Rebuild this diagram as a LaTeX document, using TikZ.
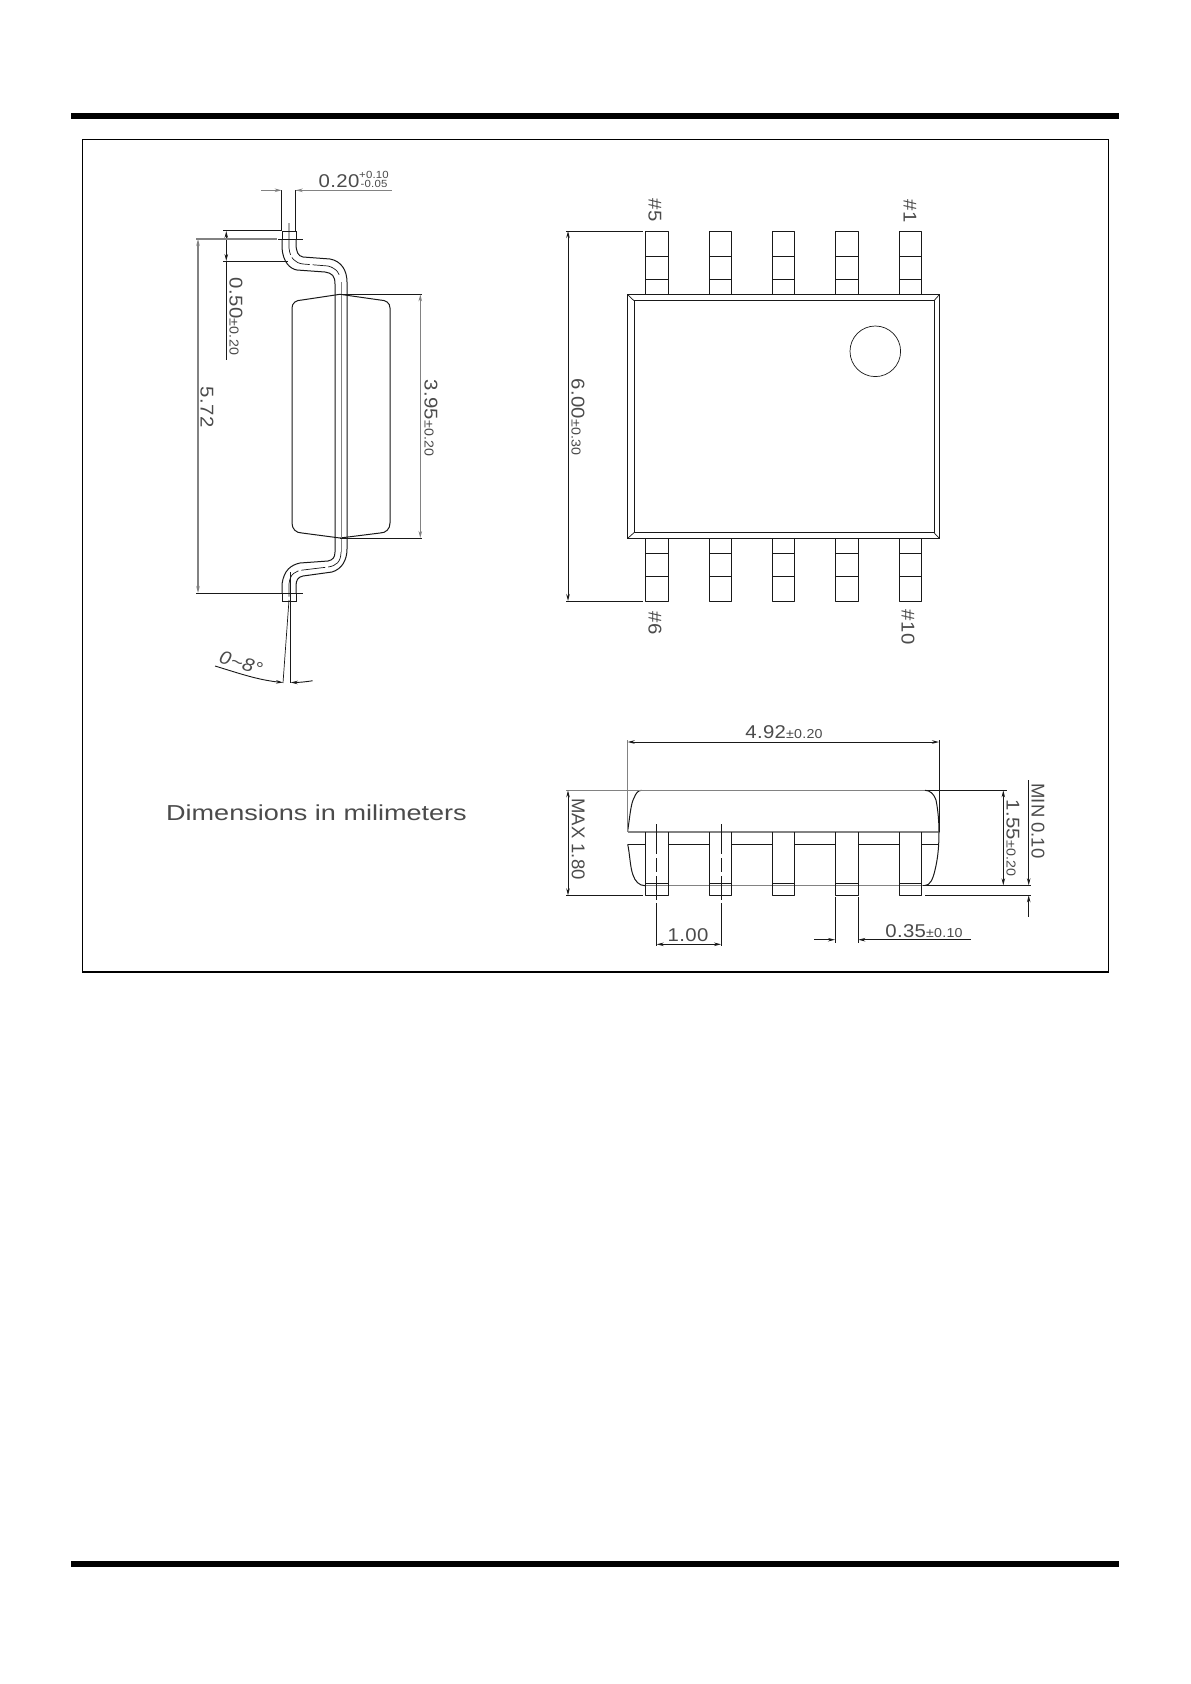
\documentclass[tikz,border=0pt]{standalone}
\usepackage{fontspec}
\setmainfont[FakeStretch=1.1,LetterSpace=2]{Liberation Sans}
\newfontfamily\plainfont{Liberation Sans}
\newfontfamily\notefont[FakeStretch=1.25]{Liberation Sans}
\usetikzlibrary{arrows.meta}
\definecolor{drawColor}{RGB}{25,25,25}
\definecolor{greyColor}{RGB}{130,130,130}
\definecolor{textColor}{RGB}{75,75,75}
\newcommand{\tol}[1]{{\scriptsize #1}}
\tikzset{
  outline/.style={draw=drawColor,line width=1pt,line join=round},
  greyline/.style={draw=greyColor,line width=1.1pt,line join=round},
  thinline/.style={draw=drawColor,line width=0.7pt},
  dimline/.style={draw=drawColor,line width=0.9pt},
  centerline/.style={draw=drawColor,line width=0.8pt,dash pattern=on 30pt off 4pt on 14pt off 4pt on 24pt off 3pt on 60pt},
  dimtext/.style={text=textColor,anchor=center,inner sep=0pt,outer sep=0pt,scale=1.85},
  dimdown/.style={dimtext,rotate=-90},
}
\begin{document}
\begin{tikzpicture}[x=1pt,y=-1pt,>={Stealth[length=7pt,width=3.5pt]}]
\path[use as bounding box,fill=white] (0,0) rectangle (1191,1684);

% page rules and frame
\path[fill=black] (71,113) rectangle (1119,119);
\path[fill=black] (71,1561) rectangle (1119,1567);
\path[draw=black,line width=1.1pt] (82.5,139.5) rectangle (1108.5,972);

% side view
\begin{scope}
\path[outline] (292,308) .. controls (292,303) and (296,300) .. (302,300) -- (340,294.3) -- (380,300) .. controls (386,300) and (390,303) .. (390,308) -- (390,523) .. controls (390,529) and (386,533) .. (380,533) -- (340,538) -- (302,533) .. controls (296,533) and (292,529) .. (292,523) -- cycle;
\path[thinline] (282,231) rectangle (296,239);
\path[thinline] (282,593) rectangle (296,601.6);
\path[outline] (296,239) -- (296,243) .. controls (296,252) and (298,256) .. (303,257) -- (330,259) .. controls (341,261) and (347,270) .. (347,282) -- (347,549) .. controls (347,560) and (342,569) .. (332,572) -- (303,576) .. controls (298,577) and (296,580) .. (296,586) -- (296,593);
\path[outline] (282,239) -- (282,248) .. controls (283,262) and (290,269) .. (297,270) -- (325,272) .. controls (332,273) and (335,276) .. (335,284) -- (335,552) .. controls (335,557) and (333,560) .. (328,561) -- (300,563) .. controls (291,565) and (284,570) .. (282,584) -- (282,593);
\path[draw=greyColor,line width=0.8pt] (341,282) -- (341,552);
\path[draw=drawColor,line width=0.7pt,dash pattern=on 32pt off 3pt on 20pt off 3pt on 30pt] (289,223) -- (289,248) .. controls (290,258) and (295,263) .. (303,264) -- (328,266) .. controls (336,268) and (341,274) .. (341,282);
\path[draw=drawColor,line width=0.7pt,dash pattern=on 22pt off 3pt on 24pt off 3pt on 30pt] (341,552) .. controls (341,562) and (336,566) .. (328,567) -- (303,570) .. controls (295,571) and (290,574) .. (289,584) -- (289,600);

% dimensions of the side view
\path[greyline] (295.7,190.3) -- (392,190.3);
\path[dimline] (295.7,190.3) -- (295.7,231);
\path[dimline] (281.7,190.3) -- (281.7,231);
\path[greyline,->] (261,190.3) -- (281.7,190.3);
\path[greyline,->] (310,190.3) -- (295.7,190.3);
\node[dimtext] (leadwidth) at (339,181) {0.20};
\node[dimtext,scale=0.56] (leadplus) at (374,174.5) {+0.10};
\node[dimtext,scale=0.56] (leadminus) at (374,183.5) {-0.05};

\path[dimline] (223,230.7) -- (282,230.7);
\path[dimline] (223,261) -- (288,261);
\path[dimline,<->] (226.3,231) -- (226.3,261);
\path[dimline] (226.3,261) -- (226.3,360);
\node[dimdown] (footlength) at (236,316.5) {0.50\tol{±0.20}};

\path[greyline] (196,239) -- (277,239);
\path[dimline] (278,239) -- (303,239);
\path[dimline] (196,593) -- (303,593);
\path[greyline,<->] (198,239) -- (198,593);
\node[dimdown] (leadspan) at (207,407) {5.72};

\path[dimline] (340,294.3) -- (422,294.3);
\path[dimline] (340,538) -- (422,538);
\path[greyline,<->] (420.3,294.3) -- (420.3,538);
\node[dimdown] (bodywidth) at (431,418) {3.95\tol{±0.20}};

\path[outline] (290.7,572) -- (290.7,683);
\path[thinline] (289,600) -- (283,683);
\path[dimline,->] (215,666) .. controls (238,673) and (258,680) .. (283,682.5);
\path[dimline,->] (312.7,680.7) .. controls (305,682) and (298,682.5) .. (290.7,682.5);
\node[dimtext,rotate=-17,font=\itshape] (leadangle) at (241,663) {0\textasciitilde 8°};
\end{scope}

% top view
\begin{scope}
\foreach \xa/\xb in {645/668.3,709.3/731.7,772.3/794.3,835/858.3,899.3/921.3}{
  \path[outline] (\xa,294.7) -- (\xa,231) -- (\xb,231) -- (\xb,294.7);
  \path[thinline] (\xa,256.7) -- (\xb,256.7);
  \path[thinline] (\xa,279) -- (\xb,279);
  \path[outline] (\xa,538.3) -- (\xa,601) -- (\xb,601) -- (\xb,538.3);
  \path[thinline] (\xa,553.3) -- (\xb,553.3);
  \path[thinline] (\xa,576) -- (\xb,576);
}
\path[draw=drawColor,line width=1.2pt] (627.7,294.7) rectangle (939.3,538.3);
\path[draw=drawColor,line width=0.9pt] (634,300.7) rectangle (934,532.7);
\path[thinline] (627.7,294.7) -- (634,300.7);
\path[thinline] (939.3,294.7) -- (934,300.7);
\path[thinline] (627.7,538.3) -- (634,532.7);
\path[thinline] (939.3,538.3) -- (934,532.7);
\path[thinline] (875.3,351.3) circle (25.3);
\node[dimdown] (pinfive) at (655,210) {\#5};
\node[dimdown] (pinone) at (910,211) {\#1};
\node[dimdown] (pinsix) at (655,623) {\#6};
\node[dimdown] (pinten) at (908,627) {\#10};

% overall length of the top view
\path[dimline] (566,231) -- (643,231);
\path[dimline] (566,601) -- (643,601);
\path[dimline,<->] (568,231) -- (568,601);
\node[dimdown] (totalwidth) at (578,417) {6.00\tol{±0.30}};
\end{scope}

% end view
\begin{scope}
\path[greyline] (641.7,790.3) -- (925,790.3);
\path[greyline] (627.7,832) -- (939,832);
\path[greyline] (645,885.7) -- (925,885.7);
\path[outline] (627.7,831) .. controls (630,815) and (631,803) .. (634,798) .. controls (636,793) and (638,790.3) .. (641.7,790.3);
\path[outline] (925,790.3) .. controls (930,790.3) and (934,794) .. (936,800) .. controls (938,810) and (939,822) .. (939,832) .. controls (939,845) and (938,858) .. (935,870) .. controls (933,879) and (930,885.5) .. (925,885.5);
\path[outline] (627.7,844.3) .. controls (630,855) and (630,867) .. (633,875) .. controls (635,881) and (639,885.7) .. (645,885.7);
\path[outline] (627.7,844.3) -- (645,844.3);
\path[outline] (668.3,844.3) -- (709.3,844.3);
\path[outline] (731.7,844.3) -- (772.3,844.3);
\path[outline] (794.3,844.3) -- (835,844.3);
\path[outline] (858.3,844.3) -- (899.3,844.3);
\path[outline] (921.3,844.3) -- (939,844.3);
\foreach \xa/\xb in {645/668.3,709.3/731.7,772.3/794.3,835/858.3,899.3/921.3}{
  \path[outline] (\xa,832) -- (\xa,895.3) -- (\xb,895.3) -- (\xb,832);
  \path[outline] (\xa,883.3) -- (\xb,883.3);
}
\path[centerline] (656.7,824) -- (656.7,946);
\path[centerline] (721,824) -- (721,946);

% dimensions of the end view
\path[greyline] (627.7,740) -- (627.7,832);
\path[outline] (939,740) -- (939,832);
\path[dimline,<->] (627.7,742) -- (939,742);
\node[dimtext] (bodylength) at (784,732) {4.92\tol{±0.20}};

\path[greyline] (566,790.3) -- (641.7,790.3);
\path[dimline] (566,895.3) -- (643,895.3);
\path[dimline,<->] (568,790.3) -- (568,895.3);
\node[dimdown,font=\plainfont] (maxheight) at (578.3,839) {MAX 1.80};

\path[dimline,<->] (656.7,944.3) -- (721,944.3);
\node[dimtext] (pinpitch) at (688,935) {1.00};

\path[thinline] (925,790.3) -- (1006.7,790.3);
\path[dimline] (923,885.3) -- (1030.7,885.3);
\path[dimline] (925,895.3) -- (1030.7,895.3);
\path[dimline,<->] (1003.3,790.3) -- (1003.3,885.3);
\node[dimdown] (bodyheight) at (1013,838) {1.55\tol{±0.20}};

\path[dimline,->] (1028.7,780) -- (1028.7,885.3);
\path[dimline,->] (1028.7,916.7) -- (1028.7,895.3);
\node[dimdown,font=\plainfont] (minstandoff) at (1038,821) {MIN 0.10};

\path[dimline] (835,896.7) -- (835,942.7);
\path[dimline] (858.3,896.7) -- (858.3,942.7);
\path[dimline,->] (814,939.7) -- (835,939.7);
\path[dimline,->] (970.7,939.7) -- (858.3,939.7);
\node[dimtext] (pinwidth) at (924,930.7) {0.35\tol{±0.10}};
\end{scope}

% note
\node[dimtext,scale=1.17,font=\notefont] (note) at (316.5,813) {Dimensions in milimeters};
\end{tikzpicture}
\end{document}
